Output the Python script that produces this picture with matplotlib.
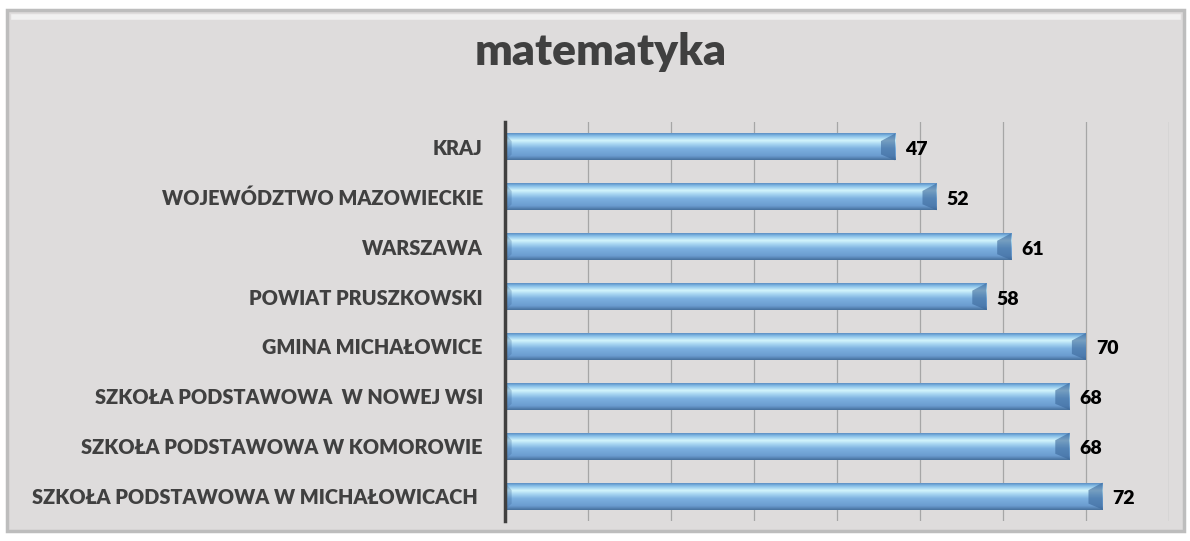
import numpy as np
import matplotlib
matplotlib.use("Agg")
import matplotlib.pyplot as plt
from matplotlib.colors import LinearSegmentedColormap
from matplotlib.patches import Rectangle, Polygon

# dane
categories = [
    "KRAJ",
    "WOJEWÓDZTWO MAZOWIECKIE",
    "WARSZAWA",
    "POWIAT PRUSZKOWSKI",
    "GMINA MICHAŁOWICE",
    "SZKOŁA PODSTAWOWA  W NOWEJ WSI",
    "SZKOŁA PODSTAWOWA W KOMOROWIE",
    "SZKOŁA PODSTAWOWA W MICHAŁOWICACH ",
]
values = [47, 52, 61, 58, 70, 68, 68, 72]
title = "matematyka"

plt.rcParams['font.family'] = ['Lato', 'DejaVu Sans']

BG = "#dedcdc"
TXT = "#404040"

fig = plt.figure(figsize=(11.9, 5.41), dpi=100)
fig.patch.set_facecolor("white")

# ramka wykresu
frame = Rectangle((7 / 1190, 1 - 531 / 541), 1177 / 1190, 521 / 541,
                  transform=fig.transFigure, facecolor=BG,
                  edgecolor="#bdbdbd", linewidth=2.5, zorder=-2)
fig.add_artist(frame)
fig.add_artist(plt.Line2D([14 / 1190, 1178 / 1190], [1 - 17 / 541, 1 - 17 / 541],
                          transform=fig.transFigure, color="#f4f4f4", lw=4,
                          alpha=0.9, zorder=-1))

ax = fig.add_axes([505 / 1190, 1 - 521 / 541, 664 / 1190, 399 / 541])
ax.set_facecolor("none")
ax.set_zorder(2)

# gradient "walca"
cmap = LinearSegmentedColormap.from_list("bar", [
    (0.0, "#5d90c4"),
    (0.1, "#86bfe8"),
    (0.27, "#d3f5fc"),
    (0.42, "#a3d2f0"),
    (0.58, "#7cb0df"),
    (0.85, "#6b9cd0"),
    (1.0, "#47719d"),
])
grad = np.linspace(0, 1, 64).reshape(-1, 1)

h = 0.54
bevel = 1.7
for i, v in enumerate(values):
    top = i - h / 2
    bot = i + h / 2
    ax.imshow(grad, cmap=cmap, aspect="auto", extent=(0, v, bot, top),
              interpolation="bilinear", zorder=3)
    ax.add_patch(Polygon([(v, top), (v, bot), (v - bevel, bot - h * 0.22),
                          (v - bevel, top + h * 0.28)],
                         closed=True, facecolor="#3a6699", alpha=0.6,
                         edgecolor="none", zorder=4))
    ax.add_patch(Polygon([(0, top), (0, bot), (0.8, bot - h * 0.22),
                          (0.8, top + h * 0.28)],
                         closed=True, facecolor="#3a6699", alpha=0.3,
                         edgecolor="none", zorder=4))
    ax.text(v + 1.2, i + 0.05, str(v), va="center", ha="left",
            fontsize=14, fontweight="heavy", color="black", zorder=5)

ax.set_xlim(0, 80)
ax.set_ylim(7.5, -0.5)
ax.set_xticks(np.arange(0, 81, 10))
ax.xaxis.grid(True, color="#a6a6a6", lw=0.9, zorder=1)
ax.set_axisbelow(True)
ax.tick_params(axis="x", length=0, labelbottom=False)
ax.set_yticks(range(len(categories)))
ax.set_yticklabels(categories, fontsize=14.3, fontweight="heavy", color=TXT)
ax.tick_params(axis="y", length=0, pad=16)
for s in ["top", "right", "bottom"]:
    ax.spines[s].set_visible(False)
ax.spines["left"].set_color("#404040")
ax.spines["left"].set_linewidth(2.5)
ax.spines["left"].set_zorder(6)

fig.text(601 / 1190, 1 - 52 / 541, title, ha="center", va="center",
         fontsize=32, fontweight="heavy", color=TXT)

fig.savefig("out.png", dpi=100)
